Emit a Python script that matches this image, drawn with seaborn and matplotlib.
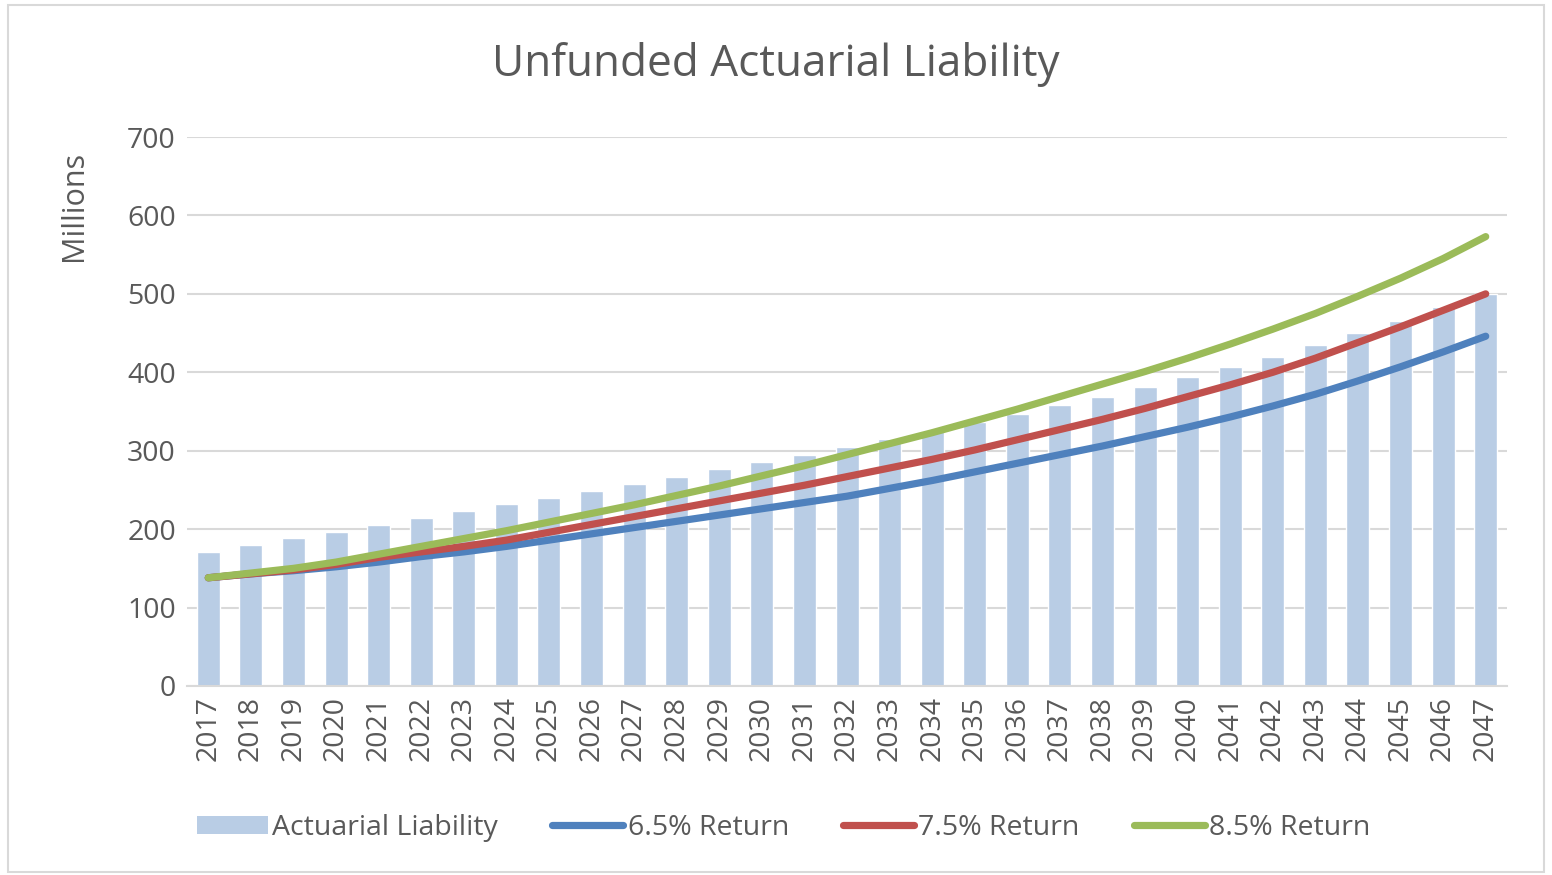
import matplotlib
matplotlib.use("Agg")
import matplotlib.pyplot as plt
import numpy as np
import pandas as pd
import seaborn as sns
from matplotlib.lines import Line2D
from matplotlib.patches import Patch, Rectangle

years = list(range(2017, 2048))

# bar heights, millions
actuarial_liability = [171, 180, 189, 197, 205.5, 214, 223, 231.5, 240, 249,
                       257.5, 267, 276.5, 285.5, 295, 305, 315, 325, 337, 347,
                       358, 369, 381.5, 394, 406.5, 420, 434.5, 450, 466, 483, 500]

# unfunded liability under three return assumptions
return_65 = [138, 143, 147, 152, 158, 165, 171, 178, 186, 194, 202, 210, 218, 226, 234, 242,
             252, 262, 273, 284, 295, 306, 318, 330, 343, 357, 372, 389, 407, 426, 446]
return_75 = [138, 143, 148, 155, 164, 171, 178, 186, 196, 206, 216, 226, 236, 246, 256, 267,
             278, 289, 301, 314, 327, 340, 354, 369, 384, 400, 418, 438, 458, 479, 500]
return_85 = [138, 144, 150, 158, 168, 178, 188, 198, 209, 220, 231, 243, 255, 268, 281, 295,
             309, 323, 338, 353, 369, 385, 401, 418, 436, 455, 475, 497, 520, 545, 573]

series_names = ["6.5% Return", "7.5% Return", "8.5% Return"]
series_colors = ["#4F81BD", "#C0504D", "#9BBB59"]
bar_color = "#B9CDE5"
text_color = "#595959"
grid_color = "#D9D9D9"

sns.set_theme(style="white")
plt.rcParams["font.family"] = ["Open Sans", "DejaVu Sans"]

bars = pd.DataFrame({"year": [str(y) for y in years], "value": actuarial_liability})
lines = pd.DataFrame({
    "pos": list(range(len(years))) * 3,
    "value": return_65 + return_75 + return_85,
    "series": [n for n in series_names for _ in years],
})

fig = plt.figure(figsize=(15.52, 8.75), dpi=100)
ax = fig.add_axes([0.1205, 0.216, 0.8505, 0.6274])

sns.barplot(data=bars, x="year", y="value", color=bar_color, width=0.54,
            saturation=1, ax=ax, zorder=2)
sns.lineplot(data=lines, x="pos", y="value", hue="series", hue_order=series_names,
             palette=series_colors, linewidth=5.2, legend=False, ax=ax, zorder=3,
             solid_capstyle="round")

ax.set_xlim(-0.5, len(years) - 0.5)
ax.set_ylim(0, 700)
ax.set_yticks(range(0, 701, 100))
ax.yaxis.grid(True, color=grid_color, linewidth=1.5, zorder=0)
ax.set_axisbelow(True)
for side in ["top", "right", "left"]:
    ax.spines[side].set_visible(False)
ax.spines["bottom"].set_color(grid_color)
ax.spines["bottom"].set_linewidth(1.5)
ax.tick_params(axis="both", length=0, labelsize=20.5, colors=text_color, pad=8)
ax.tick_params(axis="x", pad=7)
plt.setp(ax.get_xticklabels(), rotation=90)
ax.set_xlabel("")
ax.set_ylabel("Millions", fontsize=22, color=text_color)
ax.yaxis.set_label_coords(-0.074, 0.874)

fig.text(0.5, 0.926, "Unfunded Actuarial Liability", ha="center", va="center",
         fontsize=31.8, color=text_color)

handles = [Patch(facecolor=bar_color, edgecolor="none")]
handles += [Line2D([0], [0], color=c, linewidth=5.2, solid_capstyle="round") for c in series_colors]
labels = ["Actuarial Liability"] + series_names
leg = fig.legend(handles, labels, loc="center", bbox_to_anchor=(0.505, 0.054), ncol=4,
                 frameon=False, fontsize=20.5, handlelength=2.5, handleheight=0.6,
                 handletextpad=0.15, columnspacing=1.9)
for t in leg.get_texts():
    t.set_color(text_color)

fig.patches.append(Rectangle((0.005, 0.004), 0.99, 0.99, transform=fig.transFigure,
                             fill=False, edgecolor=grid_color, linewidth=1.5))

fig.savefig("out.png", dpi=100)
